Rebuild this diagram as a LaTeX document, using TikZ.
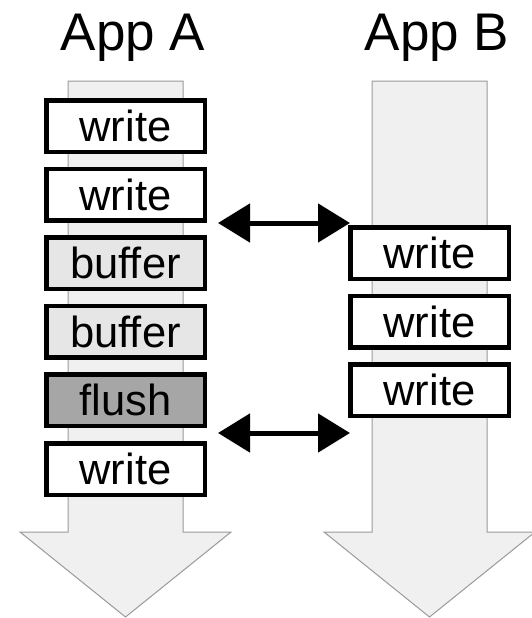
\documentclass[tikz,border=0pt]{standalone}
\usepackage{fontspec}
\setmainfont{Liberation Sans}
\usetikzlibrary{arrows.meta}
\definecolor{flow}{HTML}{F0F0F0}
\definecolor{flowedge}{HTML}{9A9A9A}
\definecolor{buf}{HTML}{E6E6E6}
\definecolor{fl}{HTML}{A6A6A6}
\tikzset{
  opbox/.style={draw=black, line width=4.5pt, fill=white, minimum width=158.5pt, minimum height=51.5pt, inner sep=0pt, font=\fontsize{43.5}{43.5}\selectfont},
  bufbox/.style={opbox, fill=buf},
  flbox/.style={opbox, fill=fl},
  title/.style={font=\fontsize{53}{53}\selectfont, anchor=base, inner sep=0pt},
  bigarrow/.style={fill=flow, draw=flowedge, line width=1pt},
  sync/.style={line width=5pt, {Triangle[length=32pt,width=38pt]}-{Triangle[length=32pt,width=38pt]}}
}
\begin{document}
\begin{tikzpicture}[x=1pt,y=-1pt]
\useasboundingbox (0,0) rectangle (531,618);
% flow arrows
\draw[bigarrow] (68,81) -- (183,81) -- (183,532) -- (231,532) -- (125.5,617) -- (20,532) -- (68,532) -- cycle;
\draw[bigarrow] (372,81) -- (487,81) -- (487,532) -- (535,532) -- (429.5,617) -- (324,532) -- (372,532) -- cycle;
% titles
\node[title] (ta) at (133,51) {App A};
\node[title] (tb) at (437,51) {App B};
% App A boxes
\node[opbox] (a1) at (125.5,126) {write};
\node[opbox] (a2) at (125.5,194.6) {write};
\node[bufbox] (a3) at (125.5,263.2) {buffer};
\node[bufbox] (a4) at (125.5,331.8) {buffer};
\node[flbox] (a5) at (125.5,400.4) {flush};
\node[opbox] (a6) at (125.5,469) {write};
% App B boxes
\node[opbox] (b1) at (429.5,253) {write};
\node[opbox] (b2) at (429.5,321.5) {write};
\node[opbox] (b3) at (429.5,390) {write};
% sync arrows
\coordinate (s1l) at (218,223);
\coordinate (s1r) at (350,223);
\coordinate (s2l) at (218,433);
\coordinate (s2r) at (350,433);
\draw[sync] (s1l) -- (s1r);
\draw[sync] (s2l) -- (s2r);
\end{tikzpicture}
\end{document}
